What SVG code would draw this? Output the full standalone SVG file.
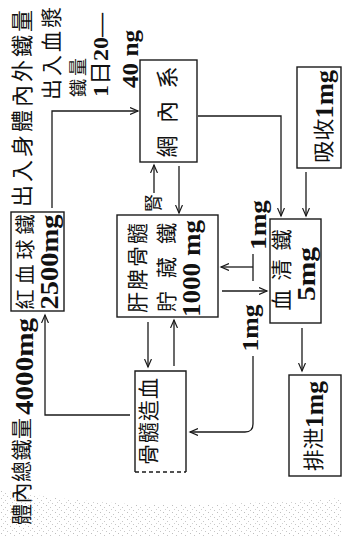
<svg xmlns="http://www.w3.org/2000/svg" width="342" height="537" viewBox="0 0 342 537">
<style>
.bx{fill:none;stroke:#1a1a1a;stroke-width:1.4}
.cn{fill:none;stroke:#1a1a1a;stroke-width:1.3}
.t{font-family:"Liberation Serif","Noto Sans CJK TC",serif;fill:#111;text-anchor:middle;dominant-baseline:central}
.n{font-weight:bold}
.k{font-weight:normal}
</style>
<defs>
<marker id="ah" markerWidth="10" markerHeight="8" refX="8" refY="4" orient="auto" markerUnits="userSpaceOnUse">
<path d="M0,0.5 L8,4 L0,7.5" fill="none" stroke="#1a1a1a" stroke-width="1.2"/>
</marker>
<pattern id="dots" width="9" height="7" patternUnits="userSpaceOnUse">
<rect x="1" y="1" width="1" height="1" fill="#888"/>
<rect x="5" y="3" width="1" height="1" fill="#999"/>
<rect x="3" y="5" width="1" height="1" fill="#aaa"/>
<rect x="7" y="6" width="1" height="1" fill="#999"/>
</pattern>
</defs>
<rect width="342" height="537" fill="#fff"/>
<path d="M0,490 Q60,500 130,504 Q230,506 342,498 L342,537 L0,537 Z" fill="url(#dots)" opacity="0.55"/>

<g id="connectors">
<path class="cn" d="M52,208 V111 H138" marker-end="url(#ah)"/>
<path class="cn" d="M198,116 H281 V216" marker-end="url(#ah)"/>
<path class="cn" d="M306,172 V216" marker-end="url(#ah)"/>
<path class="cn" d="M179,166 V213" marker-end="url(#ah)"/>
<path class="cn" d="M154,193 V165" marker-end="url(#ah)"/>
<path class="cn" d="M253,267 H221" marker-end="url(#ah)"/>
<path class="cn" d="M253,254 V281"/>
<path class="cn" d="M222,291 H267" marker-end="url(#ah)"/>
<path class="cn" d="M302,328 V371" marker-end="url(#ah)"/>
<path class="cn" d="M253,356 V424 Q253,432 245,432 H190" marker-end="url(#ah)"/>
<path class="cn" d="M148,322 V367" marker-end="url(#ah)"/>
<path class="cn" d="M174,366 V320" marker-end="url(#ah)"/>
<path class="cn" d="M130,415 H45 V315" marker-end="url(#ah)"/>
</g>

<g id="labels">
<text class="t" font-size="22" transform="translate(22,108.5) rotate(-90)" textLength="197" lengthAdjust="spacing">出入身體內外鐵量</text>
<text class="t" font-size="21" transform="translate(52,53.5) rotate(-90)" textLength="93" lengthAdjust="spacing">出入血漿</text>
<text class="t" font-size="18" transform="translate(79,77.5) rotate(-90)" textLength="39" lengthAdjust="spacing">鐵量</text>
<text class="t n" font-size="22" transform="translate(100,55) rotate(-90)" textLength="84" lengthAdjust="spacingAndGlyphs">1<tspan class="k">日</tspan>20—</text>
<text class="t n" font-size="24" transform="translate(130,59) rotate(-90)" textLength="58" lengthAdjust="spacingAndGlyphs">40 ng</text>
<text class="t" font-size="21" transform="translate(22,471.5) rotate(-90)" textLength="107" lengthAdjust="spacing">體內總鐵量</text>
<text class="t n" font-size="26" transform="translate(24,366.5) rotate(-90)" textLength="97" lengthAdjust="spacingAndGlyphs">4000mg</text>
<text class="t" font-size="18" transform="translate(154,203) rotate(-90)">腎</text>
<text class="t n" font-size="24" transform="translate(258,225) rotate(-90)" textLength="50" lengthAdjust="spacingAndGlyphs">1mg</text>
<text class="t n" font-size="24" transform="translate(250,328) rotate(-90)" textLength="47" lengthAdjust="spacingAndGlyphs">1mg</text>
</g>

<g id="rbc">
<rect class="bx" x="11" y="212" width="53" height="99"/>
<text class="t" font-size="20" transform="translate(26,262) rotate(-90)" textLength="95" lengthAdjust="spacing">紅血球鐵</text>
<text class="t n" font-size="26" transform="translate(49,262) rotate(-90)" textLength="95" lengthAdjust="spacingAndGlyphs">2500mg</text>
</g>

<g id="res">
<rect class="bx" x="140" y="60" width="57" height="102"/>
<text class="t" font-size="22" transform="translate(167,112) rotate(-90)" textLength="91" lengthAdjust="spacing">網內系</text>
</g>

<g id="storage">
<rect class="bx" x="117" y="215" width="101" height="102"/>
<text class="t" font-size="21" transform="translate(138,268) rotate(-90)" textLength="90" lengthAdjust="spacing">肝脾骨髓</text>
<text class="t" font-size="21" transform="translate(167,267.5) rotate(-90)" textLength="89" lengthAdjust="spacing">貯藏鐵</text>
<text class="t n" font-size="26" transform="translate(191,268.5) rotate(-90)" textLength="97" lengthAdjust="spacingAndGlyphs">1000 mg</text>
</g>

<g id="serum">
<rect class="bx" x="270" y="219" width="51" height="104"/>
<text class="t" font-size="21" transform="translate(282,270) rotate(-90)" textLength="81" lengthAdjust="spacing">血清鐵</text>
<text class="t n" font-size="26" transform="translate(306,274) rotate(-90)" textLength="54" lengthAdjust="spacingAndGlyphs">5mg</text>
</g>

<g id="absorb">
<rect class="bx" x="297" y="67" width="44" height="101"/>
<text class="t" font-size="21" transform="translate(324,116.5) rotate(-90)" textLength="93" lengthAdjust="spacingAndGlyphs">吸收<tspan class="n" font-size="25">1mg</tspan></text>
</g>

<g id="excrete">
<rect class="bx" x="289" y="375" width="52" height="101"/>
<text class="t" font-size="21" transform="translate(314,426) rotate(-90)" textLength="90" lengthAdjust="spacingAndGlyphs">排泄<tspan class="n" font-size="25">1mg</tspan></text>
</g>

<g id="marrow">
<path class="bx" d="M135,472 V371 H186 V472"/>
<path class="bx" d="M135,472 H186" stroke-dasharray="4,3"/>
<text class="t" font-size="21" transform="translate(149,421.5) rotate(-90)" textLength="87" lengthAdjust="spacing">骨髓造血</text>
</g>
</svg>
